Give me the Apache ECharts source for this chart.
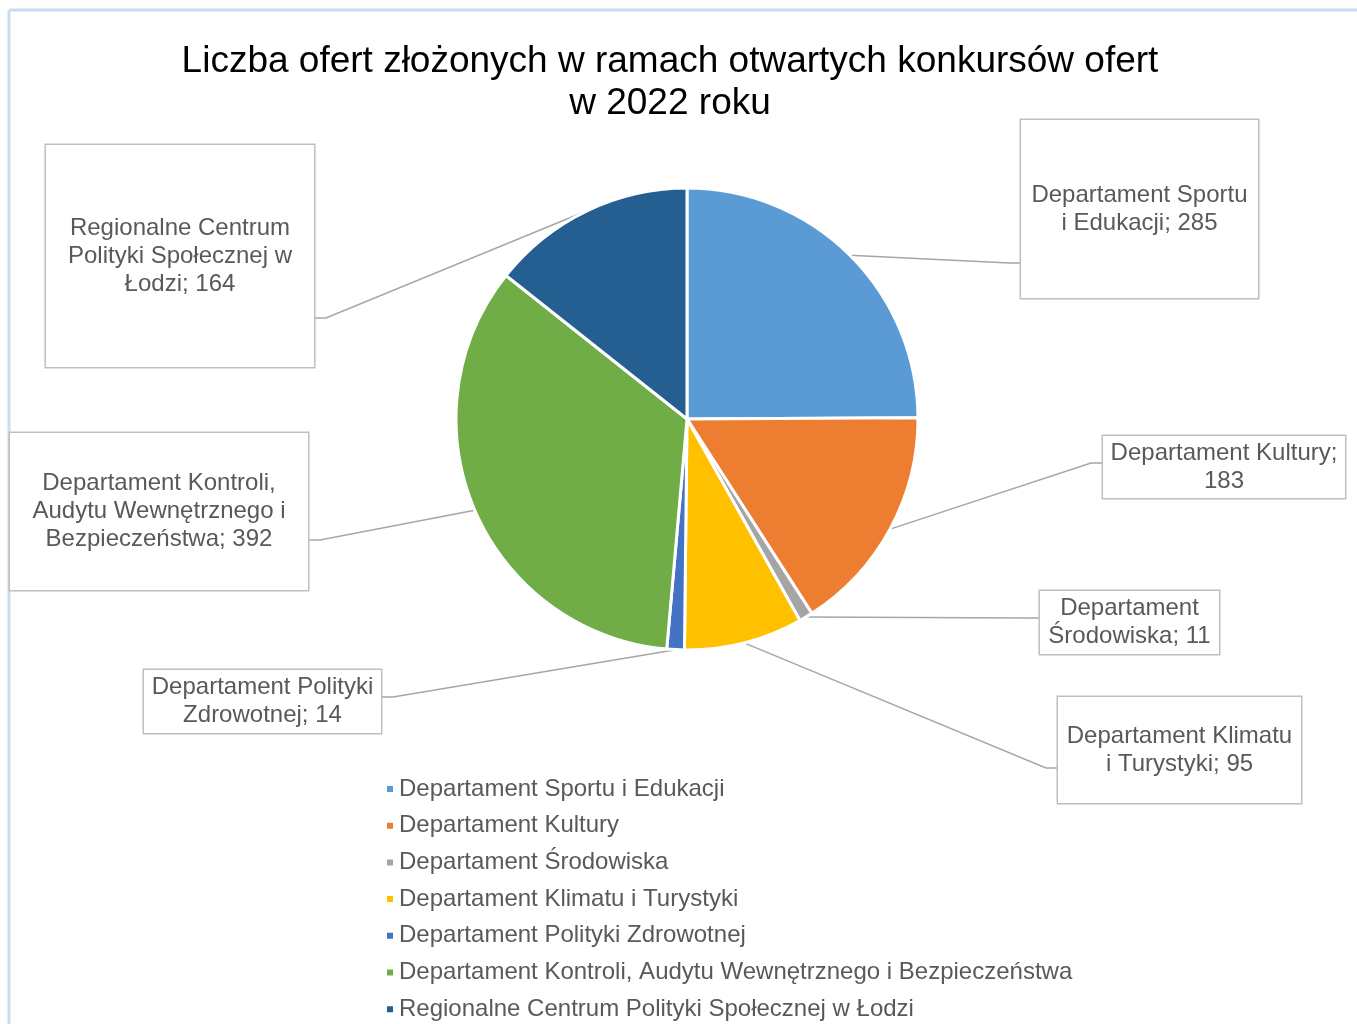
<!DOCTYPE html>
<html>
<head>
<meta charset="utf-8">
<script src="https://cdn.jsdelivr.net/npm/echarts@6/dist/echarts.min.js"></script>
<style>
  html, body { margin: 0; padding: 0; background: #fff; }
  #chart { width: 1357px; height: 1024px; }
</style>
</head>
<body>
<div id="chart"></div>
<script>
// dane
const categories = [
  'Departament Sportu i Edukacji',
  'Departament Kultury',
  'Departament Środowiska',
  'Departament Klimatu i Turystyki',
  'Departament Polityki Zdrowotnej',
  'Departament Kontroli, Audytu Wewnętrznego i Bezpieczeństwa',
  'Regionalne Centrum Polityki Społecznej w Łodzi',
];
const values = [285, 183, 11, 95, 14, 392, 164];
const colors = ['#5B9BD5', '#ED7D31', '#A5A5A5', '#FFC000', '#4472C4', '#70AD47', '#255E91'];

// po którym słowie łamać etykietę
const labelBreaks = [[2], [2], [1], [2], [2], [2, 5], [2, 5]];
// ramki etykiet: środek x, środek y, szerokość, wysokość, y linii
const labelBoxes = [
  [1139.5, 209, 237, 178, 263],
  [1224, 467, 242, 62, 463],
  [1129.5, 622.5, 179, 63, 618],
  [1179.5, 750, 243, 106, 768],
  [262.5, 701.5, 237, 63, 697],
  [159, 511.5, 298, 157, 540],
  [180, 256, 268, 222, 318],
];

const FONT = '"Liberation Sans", Arial, sans-serif';
const myChart = echarts.init(document.getElementById('chart'));

function wrapLabel(i) {
  const words = (categories[i] + '; ' + values[i]).split(' ');
  let out = '';
  words.forEach((w, k) => {
    if (k > 0) out += labelBreaks[i].indexOf(k) >= 0 ? '\n' : ' ';
    out += w;
  });
  return out;
}

const pieData = categories.map((name, i) => ({
  name: name,
  value: values[i],
  itemStyle: { color: colors[i] },
  // lekko w dół: padding u góry, ta sama wysokość ramki
  label: { width: labelBoxes[i][2], height: labelBoxes[i][3] - 5, padding: [5, 0, 0, 0] },
}));

const option = {
  animation: false,
  title: {
    text: 'Liczba ofert złożonych w ramach otwartych konkursów ofert\nw 2022 roku',
    left: 665,
    top: 36,
    textAlign: 'center',
    textStyle: {
      fontFamily: FONT,
      fontSize: 37,
      fontWeight: 'normal',
      color: '#000',
      lineHeight: 42,
    },
  },
  legend: {
    orient: 'vertical',
    left: 385,
    top: 777,
    height: 400,
    padding: 0,
    icon: 'rect',
    itemWidth: 8,
    itemHeight: 8,
    itemGap: 12.7,
    data: categories,
    textStyle: {
      fontFamily: FONT,
      fontSize: 24,
      lineHeight: 24,
      color: '#595959',
    },
  },
  graphic: [
    { type: 'line', shape: { x1: 9, y1: 10, x2: 9, y2: 1024 }, style: { stroke: '#c9dcf1', lineWidth: 3 } },
    { type: 'line', shape: { x1: 9, y1: 10, x2: 1357, y2: 10 }, style: { stroke: '#c9dcf1', lineWidth: 3 } },
  ],
  series: [
    {
      type: 'pie',
      center: [687, 419],
      radius: 231,
      startAngle: 90,
      clockwise: true,
      avoidLabelOverlap: false,
      itemStyle: { borderColor: '#fff', borderWidth: 3 },
      label: {
        show: true,
        position: 'outside',
        formatter: p => wrapLabel(p.dataIndex),
        fontFamily: FONT,
        fontSize: 24,
        lineHeight: 28,
        color: '#595959',
        backgroundColor: '#fff',
        borderColor: '#bfbfbf',
        borderWidth: 1.5,
      },
      labelLine: {
        show: true,
        length: 20,
        length2: 12,
        lineStyle: { color: '#a6a6a6', width: 1.5 },
      },
      labelLayout: function (params) {
        const i = params.dataIndex;
        const b = labelBoxes[i];
        const lay = myChart.getModel().getSeriesByIndex(0).getData().getItemLayout(i);
        const mid = (lay.startAngle + lay.endAngle) / 2;
        const p0 = [lay.cx + lay.r * Math.cos(mid), lay.cy + lay.r * Math.sin(mid)];
        const right = b[0] > lay.cx;
        const edge = right ? b[0] - b[2] / 2 : b[0] + b[2] / 2;
        const stub = right ? edge - 12 : edge + 12;
        return {
          x: b[0],
          y: b[1],
          align: 'center',
          verticalAlign: 'middle',
          labelLinePoints: [p0, [stub, b[4]], [edge, b[4]]],
        };
      },
      emphasis: { disabled: true },
      data: pieData,
    },
  ],
};
myChart.setOption(option);
</script>
</body>
</html>
